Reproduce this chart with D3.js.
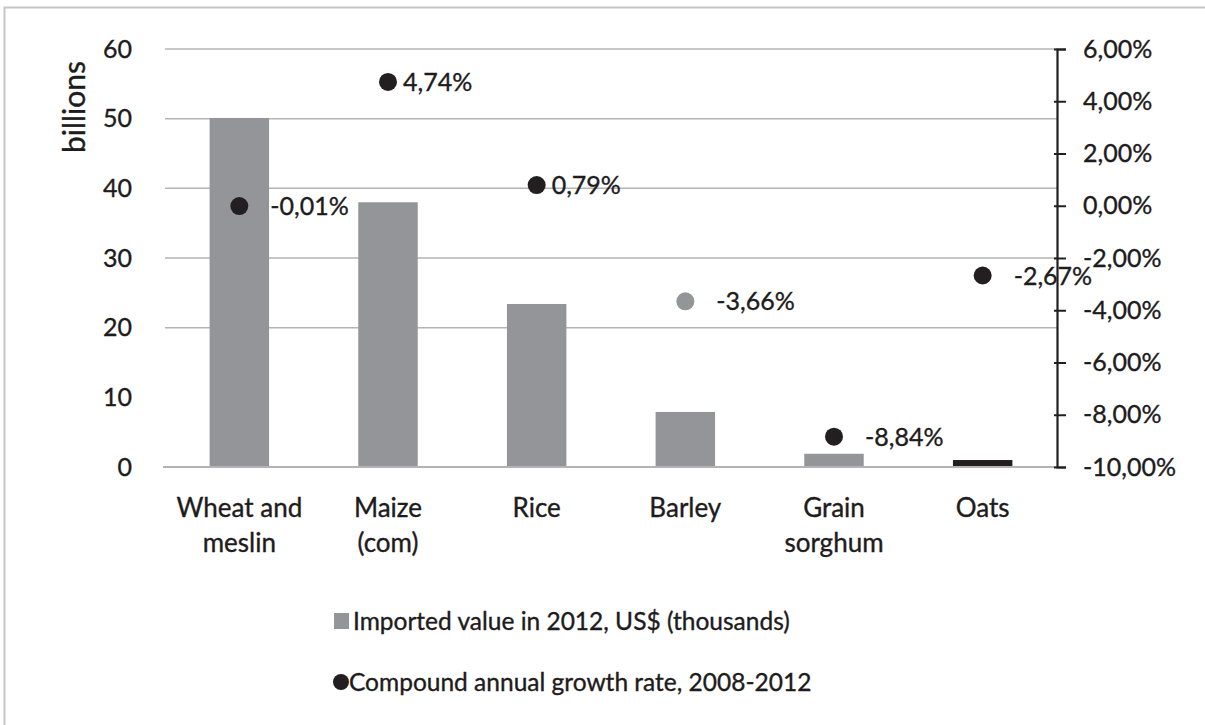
<!DOCTYPE html>
<html>
<head>
<meta charset="utf-8">
<script src="https://cdn.jsdelivr.net/npm/d3@7"></script>
<style>
  html, body { margin: 0; padding: 0; background: #fff; }
  svg { display: block; font-family: Lato, "Open Sans", sans-serif; }
  svg text { stroke: #1e1b1c; stroke-width: 0.35px; }
</style>
</head>
<body>
<svg id="chart" width="1205" height="725"></svg>
<script>
// ---- data ----
const categories = [["Wheat and", "meslin"], ["Maize", "(com)"], ["Rice"], ["Barley"], ["Grain", "sorghum"], ["Oats"]];
const importedValue = [50.1, 38.0, 23.4, 7.9, 1.9, 1.0];           // billions
const growthRate = [-0.01, 4.74, 0.79, -3.66, -8.84, -2.67];       // percent
const leftTicks = [0, 10, 20, 30, 40, 50, 60];
const gridTicks = [20, 30, 40, 50, 60];
const rightTicks = [-10, -8, -6, -4, -2, 0, 2, 4, 6];
const legendLabels = ["Imported value in 2012, US$ (thousands)", "Compound annual growth rate, 2008-2012"];

// ---- styles ----
const barGrey = "#939598", dark = "#231f20", gridCol = "#b4b4b6", textCol = "#1e1b1c";

const svg = d3.select("#chart");
const locale = d3.formatLocale({decimal: ",", thousands: ".", grouping: [3], currency: ["", ""], minus: "-"});
const fmt2 = locale.format(".2f");

// border
svg.append("rect").attr("x", 4.5).attr("y", 7.5).attr("width", 1400).attr("height", 900)
  .attr("fill", "none").attr("stroke", "#c6c6c8").attr("stroke-width", 2);

const pLeft = 165, pRight = 1057, pTop = 49, pBottom = 467;
const ids = categories.map((c, i) => i);
const x = d3.scaleBand().domain(ids).range([pLeft, pRight]).paddingInner(0.6).paddingOuter(0.3);
const yL = d3.scaleLinear().domain([0, 60]).range([pBottom, pTop]);
const yR = d3.scaleLinear().domain([-10, 6]).range([pBottom, pTop]);

// gridlines
svg.append("g").selectAll("line").data(gridTicks).join("line")
  .attr("x1", pLeft).attr("x2", pRight).attr("y1", d => yL(d)).attr("y2", d => yL(d))
  .attr("stroke", gridCol).attr("stroke-width", 1.5);

// bars
svg.append("g").selectAll("rect").data(importedValue).join("rect")
  .attr("x", (d, i) => x(i)).attr("width", x.bandwidth())
  .attr("y", d => yL(d)).attr("height", d => yL(0) - yL(d))
  .attr("fill", (d, i) => i === 5 ? dark : barGrey);

// baseline
svg.append("line").attr("x1", pLeft - 2).attr("x2", pRight).attr("y1", pBottom).attr("y2", pBottom)
  .attr("stroke", gridCol).attr("stroke-width", 2);

// left axis (labels only)
const axL = svg.append("g").attr("transform", `translate(${pLeft},0)`)
  .call(d3.axisLeft(yL).tickValues(leftTicks).tickSize(0).tickPadding(33).tickFormat(d3.format("d")));
axL.select(".domain").remove();
axL.selectAll("text").attr("font-size", 25).attr("fill", textCol).attr("font-family", "Lato, sans-serif");

svg.append("text").attr("transform", "translate(85,107) rotate(-90)")
  .attr("text-anchor", "middle").attr("font-size", 30).attr("fill", textCol).text("billions");

// right axis
const axR = svg.append("g").attr("transform", `translate(${pRight},0)`)
  .call(d3.axisRight(yR).tickValues(rightTicks).tickSize(9).tickPadding(17).tickFormat(d => fmt2(d) + "%"));
axR.select(".domain").attr("stroke", dark).attr("stroke-width", 2.2);
axR.selectAll(".tick line").attr("stroke", dark).attr("stroke-width", 2).attr("x1", -3);
axR.selectAll("text").attr("font-size", 25).attr("fill", textCol).attr("font-family", "Lato, sans-serif");

// x labels
const xl = svg.append("g").selectAll("text").data(categories).join("text")
  .attr("x", (d, i) => x(i) + x.bandwidth() / 2).attr("y", 517)
  .attr("text-anchor", "middle").attr("font-size", 26).attr("fill", textCol);
xl.selectAll("tspan").data(d => d).join("tspan")
  .attr("x", function() { return this.parentNode.getAttribute("x"); })
  .attr("dy", (d, j) => j === 0 ? 0 : 35).text(d => d);

// dots
svg.append("g").selectAll("circle").data(growthRate).join("circle")
  .attr("cx", (d, i) => x(i) + x.bandwidth() / 2).attr("cy", d => yR(d)).attr("r", 9)
  .attr("fill", (d, i) => i === 3 ? barGrey : dark);

// dot labels
svg.append("g").selectAll("text").data(growthRate).join("text")
  .attr("x", (d, i) => x(i) + x.bandwidth() / 2 + (d < 0 ? 31 : 15))
  .attr("y", d => yR(d) + 9)
  .attr("font-size", 25).attr("fill", textCol)
  .text(d => fmt2(d) + "%");

// legend
const lg = svg.append("g");
lg.append("rect").attr("x", 334).attr("y", 613).attr("width", 15).attr("height", 16).attr("fill", barGrey);
lg.append("text").attr("x", 353).attr("y", 630).attr("font-size", 24.5).attr("fill", textCol).text(legendLabels[0]);
lg.append("circle").attr("cx", 341).attr("cy", 682).attr("r", 8).attr("fill", dark);
lg.append("text").attr("x", 349).attr("y", 691).attr("font-size", 24.5).attr("fill", textCol).text(legendLabels[1]);
</script>
</body>
</html>
